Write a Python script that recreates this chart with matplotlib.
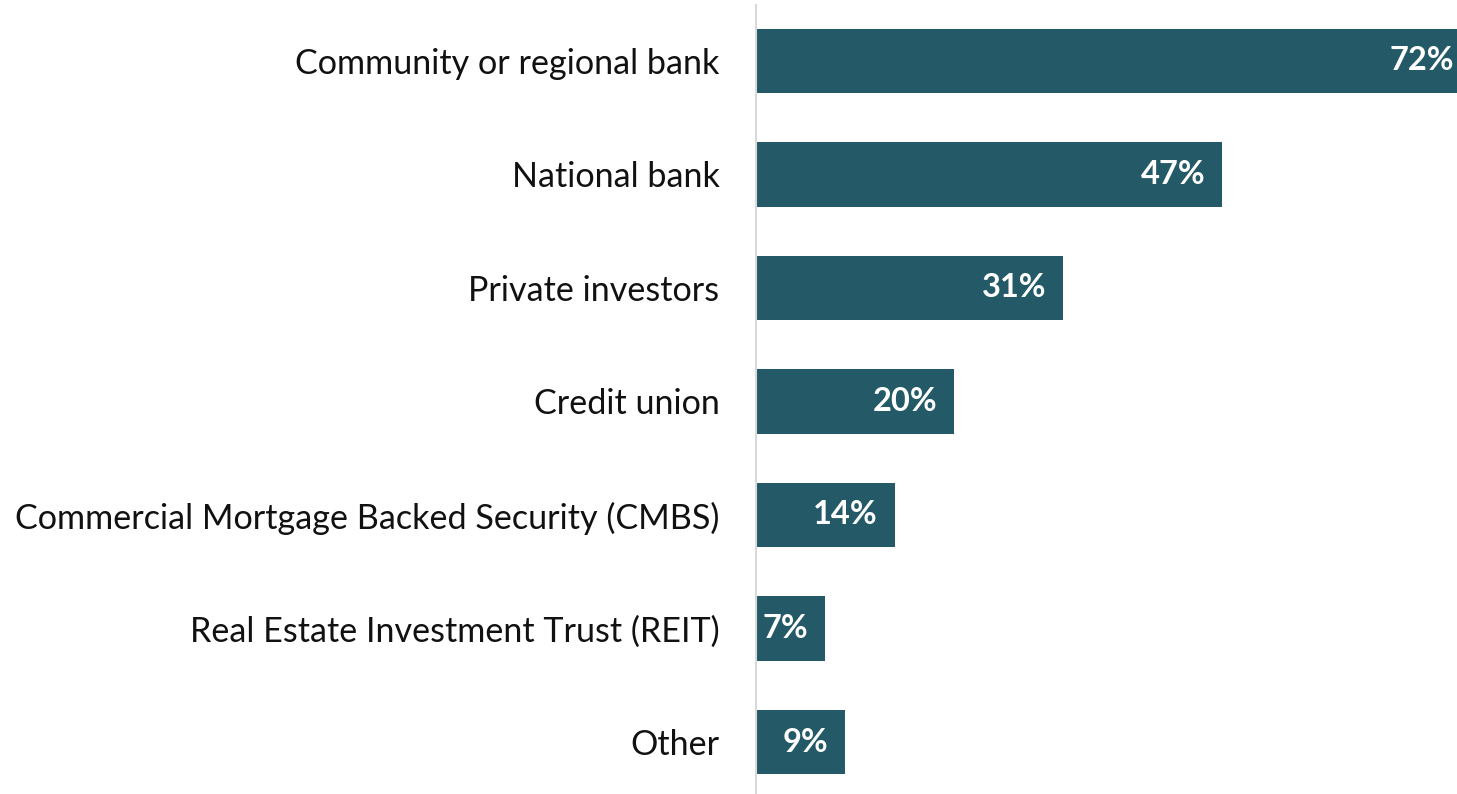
import matplotlib
matplotlib.use("Agg")
import matplotlib.pyplot as plt

categories = [
    "Community or regional bank",
    "National bank",
    "Private investors",
    "Credit union",
    "Commercial Mortgage Backed Security (CMBS)",
    "Real Estate Investment Trust (REIT)",
    "Other",
]
values = [72, 47, 31, 20, 14, 7, 9]

BAR_COLOR = "#245A68"
AXIS_COLOR = "#D9D9D9"

plt.rcParams["font.family"] = ["Lato", "DejaVu Sans"]

W, H = 1457, 794
fig = plt.figure(figsize=(W / 100, H / 100), dpi=100)
left = 755.5 / W
width = 715 / W
ax = fig.add_axes([left, 0, width, 1 - 5 / H])

y = list(range(len(categories)))
ax.barh(y, values, height=0.565, color=BAR_COLOR, zorder=2)

ax.set_xlim(0, 72)
ax.set_ylim(6.458, -0.493)
ax.set_yticks(y)
ax.set_yticklabels(categories, fontsize=24.6, color="#111111")
ax.tick_params(axis="y", length=0, pad=26)
ax.set_xticks([])

for side in ("top", "right", "bottom"):
    ax.spines[side].set_visible(False)
ax.spines["left"].set_color(AXIS_COLOR)
ax.spines["left"].set_linewidth(1.5)
ax.spines["left"].set_zorder(3)

for yi, v in zip(y, values):
    ax.annotate(f"{v}%", xy=(v, yi), xytext=(-12, 0), textcoords="offset points",
                ha="right", va="center", color="white", fontsize=23.5,
                fontweight="bold", zorder=4)

fig.savefig("out.png", dpi=100)
